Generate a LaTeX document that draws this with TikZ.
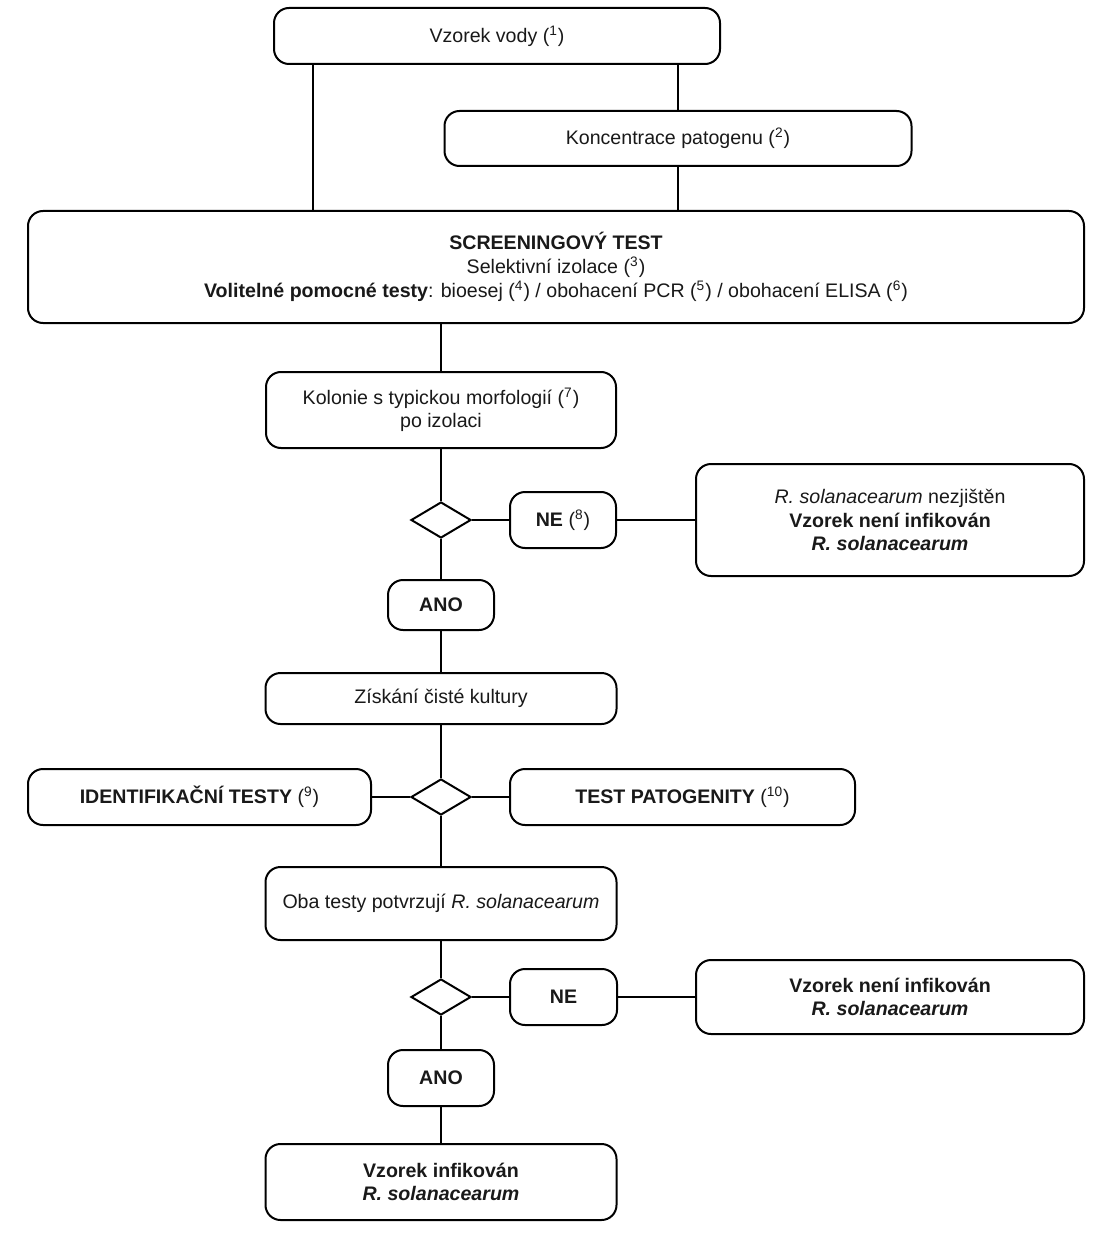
\documentclass[tikz,border=0pt]{standalone}
\usepackage{fontspec}
\setmainfont{Liberation Sans}
\usetikzlibrary{shapes.geometric}
\begin{document}
\begin{tikzpicture}[x=0.5pt,y=-0.5pt,
  rbox/.style={draw=black, line width=1pt, rounded corners=7.5pt, inner sep=0pt, align=center,
    font=\fontsize{9.8pt}{11.6pt}\selectfont, text=black!90},
  dia/.style={draw=black, line width=1pt, diamond, inner sep=0pt, minimum width=30pt, minimum height=18pt},
  conn/.style={draw=black, line width=1pt}]
\useasboundingbox (0,0) rectangle (1109,1241);
\fill[white] (0,0) rectangle (1109,1241);

\node[rbox, minimum width=223pt, minimum height=28pt] (vz) at (497,36) {Vzorek vody (\textsuperscript{1})};
\node[rbox, minimum width=233.5pt, minimum height=27.5pt] (konc) at (678,138.5) {Koncentrace patogenu (\textsuperscript{2})};
\node[rbox, minimum width=528pt, minimum height=56pt, font=\fontsize{9.8pt}{12pt}\selectfont] (scr) at (556,267) {\textbf{SCREENINGOVÝ TEST}\\Selektivní izolace (\textsuperscript{3})\\\textbf{Volitelné pomocné testy}: bioesej (\textsuperscript{4}) / obohacení PCR (\textsuperscript{5}) / obohacení ELISA (\textsuperscript{6})};
\node[rbox, minimum width=175pt, minimum height=38pt] (kol) at (441,410) {Kolonie s typickou morfologií (\textsuperscript{7})\\po izolaci};
\node[dia] (d1) at (441,520) {};
\node[rbox, minimum width=53pt, minimum height=28pt] (ne1) at (563,520) {\textbf{NE} (\textsuperscript{8})};
\node[rbox, minimum width=194pt, minimum height=56pt] (r1) at (890,520) {\textit{R. solanacearum} nezjištěn\\\textbf{Vzorek není infikován}\\\textbf{\textit{R. solanacearum}}};
\node[rbox, minimum width=53pt, minimum height=25pt] (ano1) at (441,605) {\textbf{ANO}};
\node[rbox, minimum width=175.5pt, minimum height=25.5pt] (zis) at (441,698.5) {Získání čisté kultury};
\node[dia] (d2) at (441,797) {};
\node[rbox, minimum width=171.5pt, minimum height=28pt] (ident) at (199.5,797) {\textbf{IDENTIFIKAČNÍ TESTY} (\textsuperscript{9})};
\node[rbox, minimum width=172.5pt, minimum height=28pt] (tp) at (682.5,797) {\textbf{TEST PATOGENITY} (\textsuperscript{10})};
\node[rbox, minimum width=175.5pt, minimum height=36.5pt] (oba) at (441,903.5) {Oba testy potvrzují \textit{R. solanacearum}};
\node[dia] (d3) at (441,997) {};
\node[rbox, minimum width=53.5pt, minimum height=28pt] (ne2) at (563.5,997) {\textbf{NE}};
\node[rbox, minimum width=194pt, minimum height=37pt] (r2) at (890,997) {\textbf{Vzorek není infikován}\\\textbf{\textit{R. solanacearum}}};
\node[rbox, minimum width=53pt, minimum height=28pt] (ano2) at (441,1078) {\textbf{ANO}};
\node[rbox, minimum width=175.5pt, minimum height=38pt] (fin) at (441,1182) {\textbf{Vzorek infikován}\\\textbf{\textit{R. solanacearum}}};

\coordinate (lx) at (313,0);
\draw[conn] (vz.south -| lx) -- (scr.north -| lx);
\draw[conn] (vz.south -| konc.north) -- (konc.north);
\draw[conn] (konc.south) -- (scr.north -| konc.south);
\draw[conn] (scr.south -| kol.north) -- (kol.north);
\draw[conn] (kol.south) -- (d1.north);
\draw[conn] (d1.east) -- (ne1.west);
\draw[conn] (ne1.east) -- (r1.west);
\draw[conn] (d1.south) -- (ano1.north);
\draw[conn] (ano1.south) -- (zis.north);
\draw[conn] (zis.south) -- (d2.north);
\draw[conn] (d2.west) -- (ident.east);
\draw[conn] (d2.east) -- (tp.west);
\draw[conn] (d2.south) -- (oba.north);
\draw[conn] (oba.south) -- (d3.north);
\draw[conn] (d3.east) -- (ne2.west);
\draw[conn] (ne2.east) -- (r2.west);
\draw[conn] (d3.south) -- (ano2.north);
\draw[conn] (ano2.south) -- (fin.north);
\end{tikzpicture}
\end{document}
